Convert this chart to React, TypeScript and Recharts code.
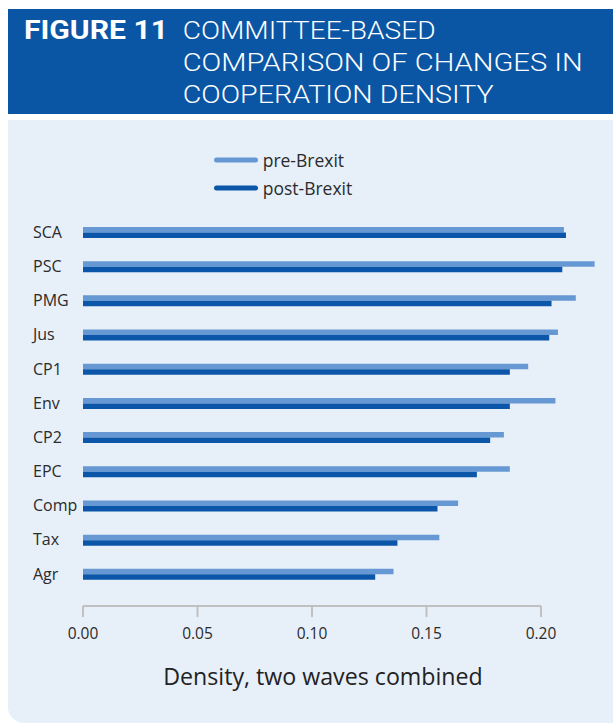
import React from 'react';
import { BarChart, Bar, XAxis, YAxis, Legend, Label } from 'recharts';

// committee density values
const committees = ['SCA', 'PSC', 'PMG', 'Jus', 'CP1', 'Env', 'CP2', 'EPC', 'Comp', 'Tax', 'Agr'];
const preBrexit = [0.21, 0.2234, 0.2152, 0.2074, 0.1944, 0.2063, 0.1838, 0.1864, 0.1638, 0.1556, 0.1356];
const postBrexit = [0.2109, 0.2093, 0.2046, 0.2036, 0.1864, 0.1864, 0.1778, 0.172, 0.1548, 0.1373, 0.1276];
const xTicks = [0, 0.05, 0.1, 0.15, 0.2];
const seriesOrder = ['pre', 'post'];
const titleLines = ['COMMITTEE-BASED', 'COMPARISON OF CHANGES IN', 'COOPERATION DENSITY'];

const PRE = '#6699d3';
const POST = '#0b56a8';
const FONT = '"Open Sans", sans-serif';

const data = committees.map((name, i) => ({ name, pre: preBrexit[i], post: postBrexit[i] }));

const CommitteeTick = ({ x, y, payload }: any) => (
  <text x={x - 50} y={y} dy="0.36em" textAnchor="start" fontSize={16} fill="#2b2b2b" fontFamily={FONT}>
    {payload.value}
  </text>
);

const LegendBox = ({ payload }: any) => {
  const items = [...(payload || [])].sort(
    (a: any, b: any) => seriesOrder.indexOf(a.dataKey) - seriesOrder.indexOf(b.dataKey)
  );
  return (
    <div style={{ fontFamily: FONT }}>
      {items.map((item: any) => (
        <div key={item.value} style={{ display: 'flex', alignItems: 'center', height: 28 }}>
          <svg width={46} height={28}>
            <line x1={2.5} x2={41.5} y1={14} y2={14} stroke={item.color} strokeWidth={5} strokeLinecap="round" />
          </svg>
          <span style={{ fontSize: 17.5, color: '#2b2b2b', marginLeft: 2.7 }}>{item.value}</span>
        </div>
      ))}
    </div>
  );
};

export default function App() {
  return (
    <div style={{ position: 'absolute', left: 0, top: 0, width: 613, height: 724 }}>
      <style>{'.recharts-wrapper g[clip-path]{clip-path:none !important}'}</style>
      <div style={{ position: 'absolute', left: 8, top: 9, width: 605, height: 105, background: '#0b56a4' }} />
      <div
        style={{
          position: 'absolute', left: 8, top: 120, width: 605, height: 603,
          background: '#e7eff9', borderBottomLeftRadius: 16,
        }}
      />
      <svg width={613} height={120} style={{ position: 'absolute', left: 0, top: 0 }}>
        <text x={24} y={39.3} fill="#fff" fontFamily="Roboto, sans-serif" fontWeight={700} fontSize={26}
          textLength={144} lengthAdjust="spacingAndGlyphs">
          FIGURE 11
        </text>
        {titleLines.map((line, i) => (
          <text key={line} x={182.7} y={39.3 + i * 32} fill="#fff" fontFamily="Roboto, sans-serif" fontWeight={300}
            fontSize={26.5} textLength={[253, 400, 311][i]} lengthAdjust="spacingAndGlyphs">
            {line}
          </text>
        ))}
      </svg>
      <div style={{ position: 'absolute', left: 0, top: 0 }}>
        <BarChart
          width={613}
          height={724}
          data={data}
          layout="vertical"
          barSize={5.5}
          barGap={0}
          margin={{ top: 215, right: 72, bottom: 18, left: 33 }}
        >
          <XAxis
            type="number"
            domain={[0, 0.2]}
            allowDataOverflow
            ticks={xTicks}
            tickFormatter={(v: number) => v.toFixed(2)}
            height={100}
            tickSize={11}
            tickMargin={11}
            stroke="#c0c0c0"
            strokeWidth={2}
            tick={{ fill: '#2b2b2b', fontSize: 15.5, fontFamily: FONT }}
          >
            <Label value="Density, two waves combined" position="insideBottom" offset={21.4} dx={11}
              fill="#222" fontSize={23.2} fontFamily={FONT} />
          </XAxis>
          <YAxis
            type="category"
            dataKey="name"
            width={50}
            axisLine={false}
            tickLine={false}
            tickSize={0}
            tickMargin={0}
            padding={{ top: 0, bottom: 15 }}
            tick={<CommitteeTick />}
          />
          <Legend
            layout="vertical"
            align="center"
            verticalAlign="middle"
            wrapperStyle={{ left: 214, top: 146, width: 200 }}
            content={<LegendBox />}
          />
          <Bar dataKey="pre" name="pre-Brexit" fill={PRE} isAnimationActive={false} />
          <Bar dataKey="post" name="post-Brexit" fill={POST} isAnimationActive={false} />
        </BarChart>
      </div>
    </div>
  );
}
